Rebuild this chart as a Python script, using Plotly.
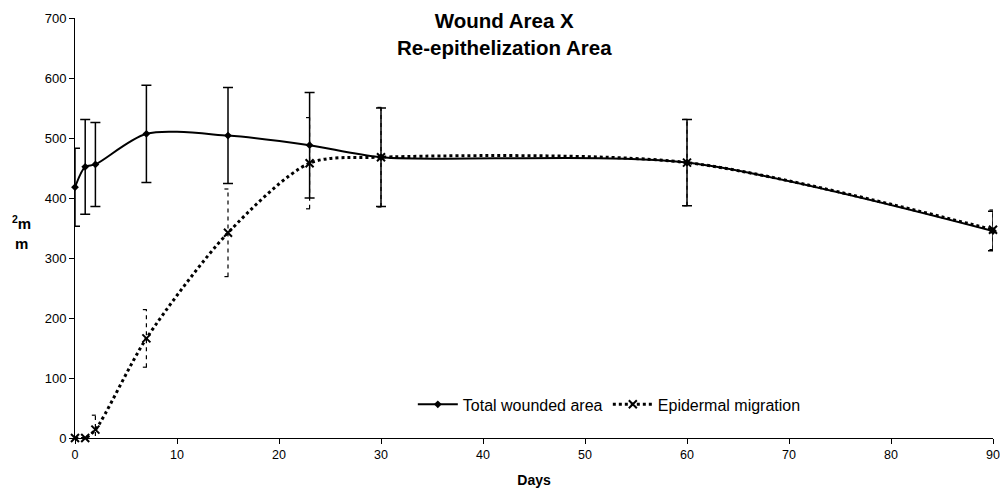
import plotly.graph_objects as go

days = [0, 1, 2, 7, 15, 23, 30, 60, 90]
total_area = [418, 452, 456, 507, 504, 488, 468, 459, 345]
total_err = [65, 79, 70, 81, 80, 88, 82, 72, 33]
epi_days = [0, 1, 2, 7, 15, 23, 30, 60, 90]
epi_area = [0, 0, 14, 166, 342, 458, 468, 459, 347]
epi_err = [0, 0, 24, 48, 73, 76, 83, 72, 33]

x_ticks = list(range(0, 91, 10))
y_ticks = list(range(0, 701, 100))

fig = go.Figure()

# dashed error bars for epidermal migration, built from data
ex, ey = [], []
cap = 0.35
for d, v, e in zip(epi_days, epi_area, epi_err):
    if e <= 0:
        continue
    ex += [d, d, None, d - cap, d + cap, None, d - cap, d + cap, None]
    ey += [v - e, v + e, None, v + e, v + e, None, v - e, v - e, None]
fig.add_trace(go.Scatter(x=ex, y=ey, mode="lines", showlegend=False,
                         line=dict(color="black", width=1.2, dash="4px,4px"),
                         hoverinfo="skip", cliponaxis=False))

fig.add_trace(go.Scatter(
    x=days, y=total_area, name="Total wounded area",
    mode="lines+markers", line=dict(color="black", width=2, shape="spline", smoothing=0.8),
    marker=dict(symbol="diamond", size=6, color="black"),
    error_y=dict(type="data", array=total_err, color="black", thickness=1.5, width=5),
    cliponaxis=False))

fig.add_trace(go.Scatter(
    x=epi_days, y=epi_area, name="Epidermal migration",
    mode="lines+markers", line=dict(color="black", width=3, dash="dot", shape="spline", smoothing=0.8),
    marker=dict(symbol="x-thin", size=8, color="black", line=dict(width=2, color="black")),
    cliponaxis=False))

fig.update_layout(
    width=1000, height=489,
    margin=dict(l=75, r=7, t=18, b=51),
    paper_bgcolor="white", plot_bgcolor="white",
    font=dict(family="Liberation Sans, Arial", size=13, color="black"),
    showlegend=True,
    legend=dict(orientation="h", x=0.368, y=0.08, xanchor="left", yanchor="middle",
                font=dict(size=16), bgcolor="rgba(0,0,0,0)", itemwidth=40,
                entrywidth=140, entrywidthmode="pixels"),
    xaxis=dict(range=[0, 90], tickvals=x_ticks, showgrid=False, zeroline=False,
               showline=True, linecolor="black", linewidth=1, ticks="outside",
               ticklen=5, tickcolor="black", automargin=False,
               tickfont=dict(size=12.5),
               title=dict(text="<b>Days</b>", font=dict(size=14), standoff=14)),
    yaxis=dict(range=[0, 700], tickvals=y_ticks, showgrid=False, zeroline=False,
               showline=True, linecolor="black", linewidth=1, ticks="outside",
               ticklen=5, tickcolor="black", automargin=False),
    annotations=[
        dict(text="<b>Wound Area X<br>Re-epithelization Area</b>", xref="paper", yref="paper",
             x=0.468, y=1.026, xanchor="center", yanchor="top", showarrow=False,
             font=dict(size=20.5)),
        dict(text="<b><sup>2</sup>m<br>m</b>", xref="paper", yref="paper",
             x=-0.058, y=0.49, xanchor="center", yanchor="middle", showarrow=False,
             font=dict(size=15)),
    ],
)

fig.write_html("out.html", config={"displayModeBar": False},
               post_script="document.body.style.margin='0px';document.body.style.overflow='hidden';")
